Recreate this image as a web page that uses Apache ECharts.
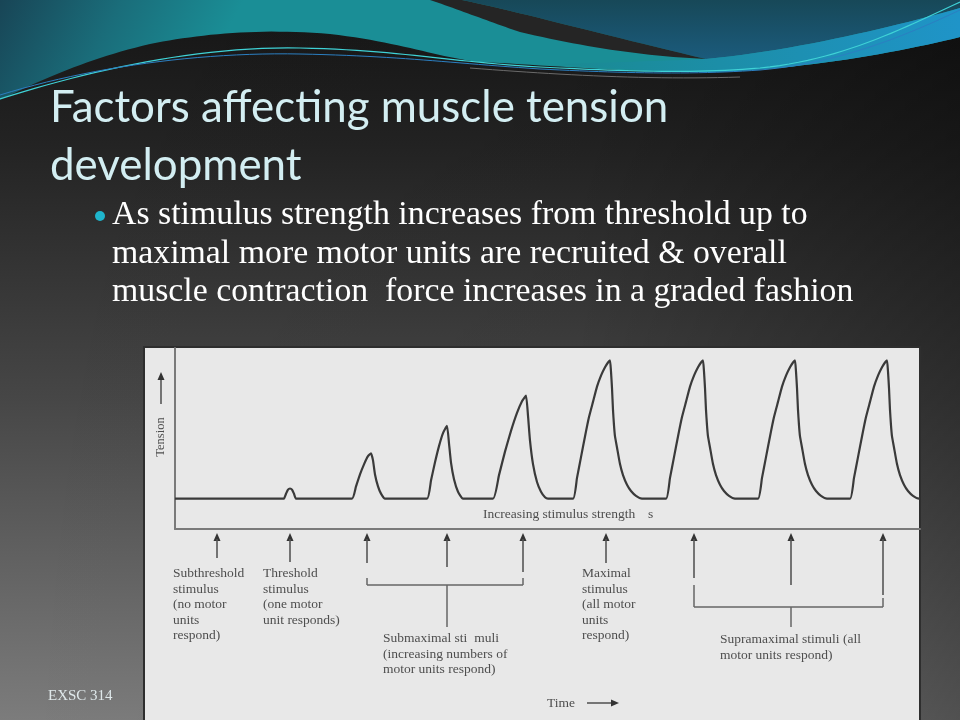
<!DOCTYPE html>
<html><head><meta charset="utf-8">
<script src="https://cdn.jsdelivr.net/npm/echarts@6/dist/echarts.min.js"></script>
<style>html,body{margin:0;padding:0;background:#222;}#c{width:960px;height:720px;}</style>
</head><body><div id="c"></div>
<script>
// ---------- text content ----------
const titleLines = ['Factors affecting muscle tension', 'development'];
const bulletLines = [
  'As stimulus strength increases from threshold up to',
  'maximal more motor units are recruited & overall',
  'muscle contraction  force increases in a graded fashion'
];
const footerText = 'EXSC 314';
const yAxisName = 'Tension';
const xAxisName = 'Time';
const strengthLabel = 'Increasing stimulus strength';
const strengthSuffix = 's';
const subthresholdText = ['Subthreshold', 'stimulus', '(no motor', 'units', 'respond)'];
const thresholdText = ['Threshold', 'stimulus', '(one motor', 'unit responds)'];
const submaximalText = ['Submaximal sti  muli', '(increasing numbers of', 'motor units respond)'];
const maximalText = ['Maximal', 'stimulus', '(all motor', 'units', 'respond)'];
const supramaximalText = ['Supramaximal stimuli (all', 'motor units respond)'];

// ---------- data (time units, tension units) ----------
const timeVals = [
  0, 108,
  109, 111, 113, 115, 117, 119, 121,
  177, 181, 185, 189, 193, 196, 198, 200, 203, 206, 210,
  252, 256, 260, 264, 268, 272, 274, 276, 279, 283, 288,
  318, 324, 330, 336, 342, 347, 351, 353, 355, 358, 362, 366, 370, 373,
  398, 402, 406, 410, 414, 418, 422, 426, 430, 433, 435, 436, 437, 438, 439, 440, 442, 445, 448, 452, 456, 461, 467,
  491, 495, 499, 503, 507, 511, 515, 519, 523, 526, 528, 529, 530, 531, 532, 533, 535, 538, 541, 545, 549, 554, 560,
  583, 587, 591, 595, 599, 603, 607, 611, 615, 618, 620, 621, 622, 623, 624, 625, 627, 630, 633, 637, 641, 646, 652,
  675, 679, 683, 687, 691, 695, 699, 703, 707, 710, 712, 713, 714, 715, 716, 717, 719, 722, 725, 729, 733, 738, 744, 745
];
const tensionVals = [
  0, 0,
  0, 3.5, 6.5, 7.3, 6.5, 3.5, 0,
  0, 8.8, 17.5, 24.8, 30.7, 32.8, 27.7, 17.5, 8.8, 3.6, 0,
  0, 13.1, 26.3, 38, 47.4, 52.6, 40, 26, 14, 5, 0,
  0, 17, 34, 49, 62, 70.5, 74.5, 60, 42, 25, 12, 5, 1, 0,
  0, 15, 30, 45, 59, 70, 81, 89, 95, 98.5, 100, 92, 80, 64, 53, 45, 37, 25, 17, 10, 5.5, 2, 0,
  0, 15, 30, 45, 59, 70, 81, 89, 95, 98.5, 100, 92, 80, 64, 53, 45, 37, 25, 17, 10, 5.5, 2, 0,
  0, 15, 30, 45, 59, 70, 81, 89, 95, 98.5, 100, 92, 80, 64, 53, 45, 37, 25, 17, 10, 5.5, 2, 0,
  0, 15, 30, 45, 59, 70, 81, 89, 95, 98.5, 100, 92, 80, 64, 53, 45, 37, 25, 17, 10, 5.5, 2, 0, 0
];
const stimulusTimes = [42, 115, 192, 272, 348, 431, 519, 616, 708];
const timeRange = [0, 745];
const tensionRange = [-22, 109];

// ---------- chart ----------
const chart = echarts.init(document.getElementById('c'), null, {renderer: 'canvas'});
const seriesData = timeVals.map((t, i) => [t, tensionVals[i]]);

const option = {
  animation: false,
  grid: {left: 175, right: 40, top: 348, bottom: 191, z: 3},
  xAxis: {
    type: 'value', min: timeRange[0], max: timeRange[1], z: 3,
    axisLine: {onZero: false, lineStyle: {color: '#7a7a7a', width: 2}},
    axisTick: {show: false}, axisLabel: {show: false}, splitLine: {show: false}
  },
  yAxis: {
    type: 'value', min: tensionRange[0], max: tensionRange[1], z: 3,
    axisLine: {show: true, lineStyle: {color: '#7a7a7a', width: 2}},
    axisTick: {show: false}, axisLabel: {show: false}, splitLine: {show: false}
  },
  series: [{
    type: 'line', data: seriesData, showSymbol: false, smooth: 0.15,
    lineStyle: {color: '#3a3a3a', width: 2.2}, z: 5
  }]
};
chart.setOption(option);

function fitSize(text, font, width) {
  const c = document.createElement('canvas').getContext('2d');
  c.font = '100px ' + font;
  return 100 * width / c.measureText(text).width;
}
// sample an absolute M/L/C/Z path string into points
function pathPoints(d) {
  const tk = d.match(/[MLCZ]|-?\d*\.?\d+/g);
  const pts = [];
  let i = 0, cmd = '', cx = 0, cy = 0;
  while (i < tk.length) {
    if (/[MLCZ]/.test(tk[i])) { cmd = tk[i++]; if (cmd === 'Z') continue; }
    if (cmd === 'M' || cmd === 'L') {
      cx = +tk[i++]; cy = +tk[i++]; pts.push([cx, cy]);
    } else if (cmd === 'C') {
      const x1 = +tk[i++], y1 = +tk[i++], x2 = +tk[i++], y2 = +tk[i++], x3 = +tk[i++], y3 = +tk[i++];
      for (let s = 1; s <= 24; s++) {
        const t = s / 24, u = 1 - t;
        pts.push([u*u*u*cx + 3*u*u*t*x1 + 3*u*t*t*x2 + t*t*t*x3, u*u*u*cy + 3*u*u*t*y1 + 3*u*t*t*y2 + t*t*t*y3]);
      }
      cx = x3; cy = y3;
    } else { i++; }
  }
  return pts;
}

const px = t => chart.convertToPixel({xAxisIndex: 0}, t);
const serif = '"Liberation Serif", "DejaVu Serif", serif';
const labelColor = '#4e4e4e';
const g = [];
const poly = (d, z, style) => g.push({type: 'polygon', z: z, silent: true, shape: {points: pathPoints(d)}, style: style});
const pline = (d, z, style) => g.push({type: 'polyline', z: z, silent: true, shape: {points: pathPoints(d)}, style: style});

// slide background
g.push({type: 'rect', z: -20, silent: true, shape: {x: 0, y: 0, width: 960, height: 720},
  style: {fill: {type: 'linear', x: 0, y: 0, x2: 0, y2: 1, colorStops: [
    {offset: 0, color: '#151515'}, {offset: 0.2, color: '#232323'},
    {offset: 0.55, color: '#464646'}, {offset: 1, color: '#7c7c7c'}]}}});
g.push({type: 'rect', z: -19, silent: true, shape: {x: 0, y: 0, width: 960, height: 720},
  style: {fill: {type: 'linear', x: 0, y: 0, x2: 1, y2: 0, colorStops: [
    {offset: 0, color: 'rgba(0,0,0,0)'}, {offset: 0.6, color: 'rgba(0,0,0,0.05)'},
    {offset: 1, color: 'rgba(0,0,0,0.35)'}]}}});
// teal waves
poly('M0,0 L960,0 L960,37 C900,52 800,70 713,72 C640,73 560,66 480,62 C440,58 400,42 330,34 C260,28 200,34 150,44 C90,58 40,80 0,100 Z', -18,
  {fill: {type: 'linear', x: 0, y: 0, x2: 0.2, y2: 1, colorStops: [
    {offset: 0, color: '#184556'}, {offset: 0.5, color: '#1a6d7a'}, {offset: 1, color: '#1a8e96'}]}});
// blue-teal region above the swoosh on the right
poly('M462,0 C520,12 600,34 706,59 C800,50 900,25 960,8 L960,0 Z', -17.5,
  {fill: {type: 'linear', x: 0, y: 0, x2: 0, y2: 1, colorStops: [
    {offset: 0, color: '#174858'}, {offset: 1, color: '#1b5b7c'}]}});
poly('M560,64 C620,62 660,61 706,59 C800,50 900,25 960,8 L960,37 C900,52 800,70 713,72 C660,72 600,68 560,64 Z', -17,
  {fill: {type: 'linear', x: 0, y: 0, x2: 1, y2: 0, colorStops: [
    {offset: 0, color: '#1a8a92'}, {offset: 1, color: '#1f94c8'}]}});
poly('M430,0 L462,0 C520,12 600,34 706,59 C640,56 580,46 520,32 C490,22 460,10 430,0 Z', -16, {fill: '#252525'});
pline('M0,99 C90,70 200,46 300,48 C400,50 450,62 540,67 C620,71 690,74 760,68 C840,60 900,30 960,2', -15,
  {fill: null, stroke: '#3fd2d6', lineWidth: 1.2});
pline('M0,95 C90,67 200,52 300,54 C400,56 450,63 540,69 C620,73 690,75 760,70 C840,63 905,36 960,10', -15,
  {fill: null, stroke: '#2b7fc2', lineWidth: 1});
pline('M470,68 C560,75 650,80 740,77', -15, {fill: null, stroke: '#6a6a6a', lineWidth: 1});

// title
const titleFont = 'Lato, "Noto Sans", sans-serif';
const titleSize = fitSize(titleLines[0], titleFont, 618);
g.push({type: 'text', z: 10, x: 50, y: 108, style: {text: titleLines[0], font: titleSize.toFixed(1) + 'px ' + titleFont, fill: '#d3eef2', verticalAlign: 'middle'}});
g.push({type: 'text', z: 10, x: 50, y: 166, style: {text: titleLines[1], font: titleSize.toFixed(1) + 'px ' + titleFont, fill: '#d3eef2', verticalAlign: 'middle'}});

// bullet
const bulletSize = 0.965 * fitSize(bulletLines[0], serif, 720);
g.push({type: 'circle', z: 10, shape: {cx: 100, cy: 216, r: 5}, style: {fill: '#1fb5cc'}});
[215, 254, 292].forEach((y, i) => g.push({type: 'text', z: 10, x: 112, y: y,
  style: {text: bulletLines[i], font: bulletSize.toFixed(1) + 'px ' + serif, fill: '#ffffff', verticalAlign: 'middle'}}));

// footer
g.push({type: 'text', z: 10, x: 48, y: 696, style: {text: footerText, font: '15px ' + serif, fill: '#dfe8ea', verticalAlign: 'middle'}});

// figure panel
g.push({type: 'rect', z: -5, silent: true, shape: {x: 144, y: 347, width: 776, height: 380},
  style: {fill: '#e8e8e8', stroke: '#2e2e2e', lineWidth: 2}});

// axis annotations
g.push({type: 'text', z: 10, x: 161, y: 437, rotation: Math.PI / 2,
  style: {text: yAxisName, font: '12.5px ' + serif, fill: labelColor, align: 'center', verticalAlign: 'middle'}});
g.push({type: 'line', z: 10, shape: {x1: 161, y1: 404, x2: 161, y2: 379}, style: {stroke: '#444', lineWidth: 1.4}});
g.push({type: 'polygon', z: 10, shape: {points: [[161, 372], [157.5, 380], [164.5, 380]]}, style: {fill: '#333'}});

const labelFont = '13.5px ' + serif;
g.push({type: 'text', z: 10, x: 483, y: 514, style: {text: strengthLabel, font: labelFont, fill: labelColor, verticalAlign: 'middle'}});
g.push({type: 'text', z: 10, x: 648, y: 514, style: {text: strengthSuffix, font: labelFont, fill: labelColor, verticalAlign: 'middle'}});

g.push({type: 'text', z: 10, x: 547, y: 703, style: {text: xAxisName, font: labelFont, fill: labelColor, verticalAlign: 'middle'}});
g.push({type: 'line', z: 10, shape: {x1: 587, y1: 703, x2: 612, y2: 703}, style: {stroke: '#444', lineWidth: 1.4}});
g.push({type: 'polygon', z: 10, shape: {points: [[619, 703], [611, 699.5], [611, 706.5]]}, style: {fill: '#333'}});

// stimulus arrows
const shaftEnds = [558, 562, 563, 567, 572, 563, 578, 585, 595];
const sx = stimulusTimes.map(px);
sx.forEach((x, i) => {
  g.push({type: 'polygon', z: 10, shape: {points: [[x, 533], [x - 3.5, 541], [x + 3.5, 541]]}, style: {fill: '#333'}});
  g.push({type: 'line', z: 10, shape: {x1: x, y1: 539, x2: x, y2: shaftEnds[i]}, style: {stroke: '#555', lineWidth: 1.6}});
});
const ln = (x1, y1, x2, y2) => g.push({type: 'line', z: 10, shape: {x1, y1, x2, y2}, style: {stroke: '#666', lineWidth: 1.5}});
ln(sx[2], 578, sx[2], 585); ln(sx[4], 578, sx[4], 585); ln(sx[2], 585, sx[4], 585); ln(sx[3], 585, sx[3], 627);
ln(sx[6], 585, sx[6], 607); ln(sx[8], 598, sx[8], 607); ln(sx[6], 607, sx[8], 607); ln(sx[7], 607, sx[7], 627);

// labels
const block = (lines, x, y) => g.push({type: 'text', z: 10, x: x, y: y,
  style: {text: lines.join('\n'), font: labelFont, lineHeight: 15.5, fill: labelColor, verticalAlign: 'top'}});
block(subthresholdText, sx[0] - 44, 566);
block(thresholdText, sx[1] - 27, 566);
block(submaximalText, sx[3] - 64, 631);
block(maximalText, sx[5] - 24, 566);
block(supramaximalText, sx[7] - 71, 632);

chart.setOption({graphic: {elements: g}});
</script>
</body></html>
